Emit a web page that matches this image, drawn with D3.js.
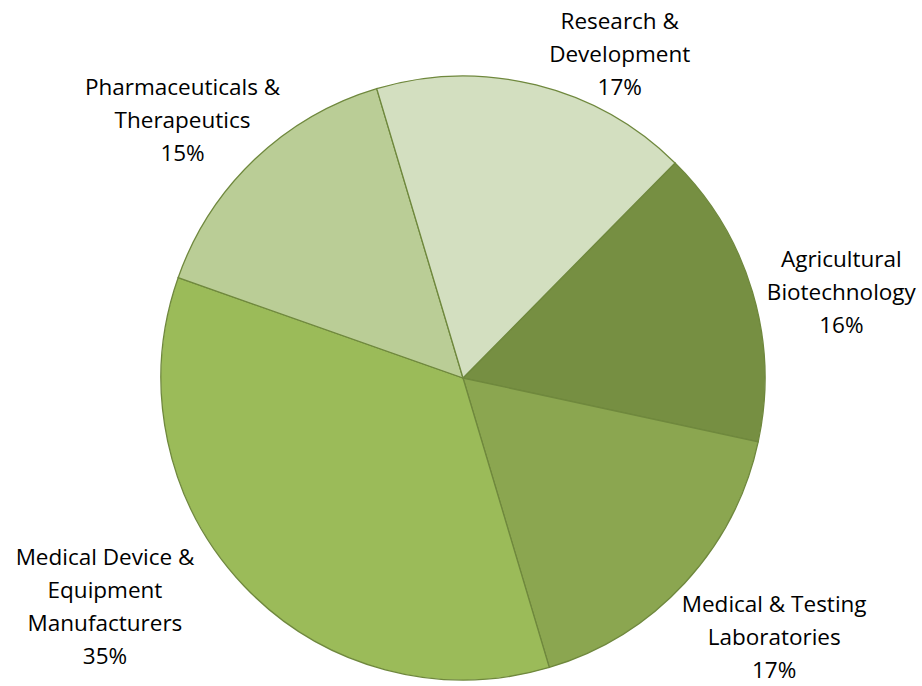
<!DOCTYPE html>
<html>
<head>
<meta charset="utf-8">
<script src="https://cdn.jsdelivr.net/npm/d3@7"></script>
<style>
body { margin: 0; background: #fff; }
text { font-family: "Open Sans", sans-serif; font-size: 22.5px; fill: #000; }
</style>
</head>
<body>
<script>
// sectors, clockwise from the first one on the right
var categories = [
  ['Agricultural', 'Biotechnology'],
  ['Medical & Testing', 'Laboratories'],
  ['Medical Device &', 'Equipment', 'Manufacturers'],
  ['Pharmaceuticals &', 'Therapeutics'],
  ['Research &', 'Development']
];
var shares = [16, 17, 35, 15, 17];
var colors = ['#768f42', '#8ba650', '#9bbb59', '#bacd96', '#d3dfc0'];

var WIDTH = 922;
var HEIGHT = 686;
var CX = 463, CY = 378, R = 302;

// where Excel put each label (angle in degrees, distance from centre)
var labelSpots = [[77.2, 388], [129.8, 405], [237.4, 425], [312.6, 381], [25.8, 360]];
var LINE = 33;

var svg = d3.select('body')
.append('svg')
.attr('width', WIDTH)
.attr('height', HEIGHT);

var pie = d3.pie()
.sort(null)
.startAngle(44.6 * Math.PI / 180)
.endAngle(44.6 * Math.PI / 180 + 2 * Math.PI);

var arc = d3.arc().innerRadius(0).outerRadius(R);

var g = svg.append('g').attr('transform', 'translate(' + CX + ',' + CY + ')');

g.selectAll('path')
.data(pie(shares))
.enter()
.append('path')
.attr('d', arc)
.attr('fill', function(d, i){return colors[i];})
.attr('stroke', '#6f883d')
.attr('stroke-width', 1.3);

var labels = g.selectAll('text')
.data(pie(shares))
.enter()
.append('text')
.attr('text-anchor', 'middle')
.attr('transform', function(d, i){
  var a = labelSpots[i][0] * Math.PI / 180, r = labelSpots[i][1];
  return 'translate(' + (r * Math.sin(a)) + ',' + (-r * Math.cos(a)) + ')';
});

labels.each(function(d, i){
  var lines = categories[i].concat([d.data + '%']);
  var top = -(lines.length - 1) * LINE / 2;
  d3.select(this).selectAll('tspan')
  .data(lines)
  .enter()
  .append('tspan')
  .attr('x', 0)
  .attr('y', function(t, k){return top + k * LINE;})
  .attr('dy', '0.35em')
  .text(function(t){return t;});
});
</script>
</body>
</html>
